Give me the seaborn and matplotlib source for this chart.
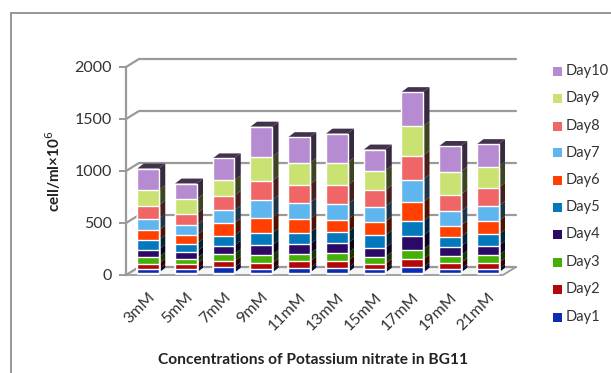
import numpy as np
import pandas as pd
import matplotlib
matplotlib.use("Agg")
import matplotlib.pyplot as plt
from matplotlib.patches import Polygon, Rectangle
from matplotlib.lines import Line2D
import matplotlib.colors as mc
import seaborn as sns

concs = ["3mM","5mM","7mM","9mM","11mM","13mM","15mM","17mM","19mM","21mM"]
days = ["Day1","Day2","Day3","Day4","Day5","Day6","Day7","Day8","Day9","Day10"]
day1 = [35,32,51,32,42,42,32,51,35,35]
day2 = [54,51,58,58,67,71,54,77,58,58]
day3 = [61,54,71,80,74,74,67,96,71,74]
day4 = [74,67,80,93,90,96,87,131,87,93]
day5 = [90,77,96,115,112,106,119,141,93,109]
day6 = [93,80,119,151,131,122,131,183,109,128]
day7 = [112,96,125,170,157,147,147,218,138,144]
day8 = [128,112,141,183,176,183,157,228,160,176]
day9 = [147,138,147,231,205,218,189,282,221,205]
day10 = [208,151,212,292,250,279,202,330,247,215]
series = [day1,day2,day3,day4,day5,day6,day7,day8,day9,day10]
colors = ["#0A2DB4","#B40808","#46AF05","#2A0A66","#0478BC","#FF4000","#5FB5EE","#F06666","#C9E272","#B78BD2"]
yticks = [0,500,1000,1500,2000]

W, H = 611, 373
sns.set_style("white")
plt.rcParams["font.family"] = ["Lato", "DejaVu Sans"]
fig = plt.figure(figsize=(W/100, H/100), dpi=100)

# frame around the chart
frame = "#8f8f8f"
fig.add_artist(Line2D([10.5/W, 10.5/W], [0, 1-13/H], color=frame, lw=1.3))
fig.add_artist(Line2D([10.5/W, 1], [1-13/H, 1-13/H], color=frame, lw=1.3))

L, R, T, B = 126, 503, 67, 275
ax = fig.add_axes([L/W, 1-B/H, (R-L)/W, (B-T)/H])
ax.patch.set_alpha(0)
ax.set_xlim((L-148)/37.75, (R-148)/37.75)
ax.set_ylim(0, 2000)
ux, uy = 37.75, 2000/(B-T)

DX, DY = 13/ux, 8*uy
sx, sy = 6.5/ux, 5*uy
bx, by = 1.5/ux, 2.2*uy
x0, x1 = ax.get_xlim()
grid = "#9a9a9a"

# walls and gridlines
ax.add_patch(Polygon([(x0,0),(x1,0),(x1+DX,DY),(x0+DX,DY)], closed=True, fc="#f6f6f6", ec="none", clip_on=False, zorder=0.8))
for v in yticks:
    ax.plot([x0, x0+DX, x1+DX], [v, v+DY, v+DY], color=grid, lw=1.6, clip_on=False, zorder=1)
ax.plot([x0,x1,x1+DX], [0,0,DY], color=grid, lw=1.3, clip_on=False, zorder=1.3)

# stacked front faces via seaborn: tallest cumulative first
df = pd.DataFrame(series, index=days, columns=concs).T
cum = df.cumsum(axis=1)
for i in range(len(days)-1, -1, -1):
    sns.barplot(x=np.arange(len(concs)), y=cum[days[i]].values, color=colors[i], saturation=1,
                width=0.57, ax=ax, native_scale=True, zorder=3, bottom=by)

# side and top faces of each bar
w = 0.57/2
for j in range(len(concs)):
    base = by
    xr = j + w
    xl = j - w
    for i in range(len(days)):
        v = df.iloc[j, i]
        side = tuple(c*0.3 for c in mc.to_rgb(colors[i]))
        ax.add_patch(Polygon([(xr, base),(xr+sx, base+sy),(xr+sx, base+v+sy),(xr, base+v)],
                             closed=True, fc=side, ec="none", clip_on=False, zorder=2.5))
        base += v
    top = tuple(c*0.36 for c in mc.to_rgb(colors[-1]))
    ax.add_patch(Polygon([(xl, base),(xr, base),(xr+sx, base+sy),(xl+sx, base+sy)],
                         closed=True, fc=top, ec="none", clip_on=False, zorder=2.5))

ax.set_xlim(x0, x1)
ax.set_ylim(0, 2000)
for s in ["top","right","bottom"]:
    ax.spines[s].set_visible(False)
ax.spines["left"].set_color(grid)
ax.spines["left"].set_linewidth(1.6)
ax.set_yticks(yticks)
ax.set_yticklabels([str(v) for v in yticks], fontsize=11.5, color="#333333")
ax.tick_params(axis="y", length=5, color=grid, width=1.4, left=True, pad=5)
ax.set_xticks(range(len(concs)))
ax.set_xticklabels(concs, rotation=45, ha="right", rotation_mode="anchor", fontsize=11.5, color="#333333")
ax.tick_params(axis="x", length=0, pad=11)
ax.set_xlabel("")
ax.set_ylabel("")

fig.text(53/W, 1-171/H, "cell/ml×10$^{6}$", rotation=90, ha="center", va="center",
         fontsize=11, fontweight="bold", color="#222222")
fig.text(313/W, 1-360/H, "Concentrations of Potassium nitrate in BG11", ha="center", va="center",
         fontsize=11.2, fontweight="bold", color="#222222")

# legend
for i, yp in zip(range(9, -1, -1), [71,98,126,153,180,207,234,262,289,317]):
    fig.add_artist(Rectangle((553/W, 1-(yp+4.5)/H), 8.5/W, 9/H, fc=colors[i], ec="none", transform=fig.transFigure))
    fig.text(566/W, 1-yp/H, days[i], ha="left", va="center", fontsize=10.5, color="#333333")

fig.savefig("out.png", dpi=100)
